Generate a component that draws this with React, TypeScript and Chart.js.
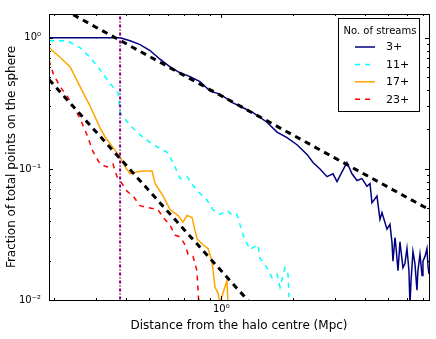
import React, { useEffect, useRef } from 'react';
import { Chart, registerables } from 'chart.js';

Chart.register(...registerables);

// ---- data (distance in Mpc, fraction of points) ----
const s3X = [0.19, 0.377, 0.415, 0.457, 0.503, 0.554, 0.61, 0.672, 0.74, 0.814, 0.897, 0.988, 1.119, 1.233, 1.357, 1.553, 1.711, 1.883, 2.074, 2.284, 2.42, 2.588, 2.769, 2.934, 3.049, 3.199, 3.357, 3.523, 3.697, 3.879, 4.071, 4.19, 4.27, 4.482, 4.613, 4.704, 4.935, 5.08, 5.178, 5.229, 5.332, 5.383, 5.488, 5.594, 5.758, 5.869, 5.984, 6.1, 6.16, 6.22, 6.34, 6.46, 6.589, 6.65, 6.783, 6.92, 6.981, 7.12, 7.256, 7.33, 7.4];
const s3Y = [1, 1, 0.95, 0.887, 0.8, 0.687, 0.6, 0.541, 0.506, 0.464, 0.392, 0.372, 0.319, 0.293, 0.269, 0.227, 0.191, 0.173, 0.153, 0.129, 0.112, 0.1, 0.0873, 0.0918, 0.0801, 0.095, 0.112, 0.0918, 0.0815, 0.0843, 0.0736, 0.0774, 0.0551, 0.0621, 0.0412, 0.0464, 0.0347, 0.0378, 0.0278, 0.0198, 0.03, 0.0255, 0.0167, 0.0278, 0.0176, 0.019, 0.0247, 0.0167, 0.0092, 0.0137, 0.0234, 0.019, 0.0119, 0.0167, 0.0223, 0.0154, 0.0198, 0.0215, 0.0247, 0.018, 0.0158];

const s11X = [0.19, 0.226, 0.256, 0.282, 0.311, 0.342, 0.37, 0.377, 0.415, 0.457, 0.518, 0.593, 0.628, 0.672, 0.719, 0.76, 0.814, 0.871, 0.923, 0.988, 1.056, 1.119, 1.163, 1.233, 1.318, 1.424, 1.452, 1.553, 1.63, 1.711, 1.761, 1.847, 1.901, 1.92];
const s11Y = [0.95, 0.95, 0.843, 0.711, 0.57, 0.449, 0.378, 0.269, 0.215, 0.182, 0.153, 0.134, 0.112, 0.0843, 0.0873, 0.075, 0.0653, 0.0579, 0.0489, 0.045, 0.048, 0.0441, 0.0449, 0.0313, 0.0243, 0.0264, 0.0208, 0.0176, 0.0148, 0.0158, 0.0125, 0.0176, 0.0158, 0.0105];

const s17X = [0.19, 0.211, 0.233, 0.256, 0.282, 0.311, 0.326, 0.352, 0.377, 0.396, 0.415, 0.444, 0.47, 0.513, 0.528, 0.571, 0.61, 0.659, 0.691, 0.719, 0.754, 0.791, 0.838, 0.88, 0.914, 0.941, 0.969, 0.988, 1.016, 1.056, 1.067];
const s17Y = [0.843, 0.711, 0.6, 0.426, 0.303, 0.205, 0.176, 0.146, 0.123, 0.1035, 0.0918, 0.095, 0.0966, 0.0966, 0.0774, 0.0621, 0.049, 0.0441, 0.0392, 0.0441, 0.0426, 0.0293, 0.0264, 0.0247, 0.0198, 0.0125, 0.0113, 0.0095, 0.0113, 0.0141, 0.009];

const s23X = [0.19, 0.198, 0.211, 0.226, 0.24, 0.256, 0.274, 0.29, 0.311, 0.332, 0.352, 0.366, 0.384, 0.403, 0.427, 0.457, 0.493, 0.543, 0.571, 0.61, 0.64, 0.672, 0.705, 0.726, 0.761, 0.791, 0.799, 0.807];
const s23Y = [0.675, 0.532, 0.426, 0.359, 0.303, 0.243, 0.182, 0.136, 0.109, 0.1035, 0.109, 0.0873, 0.0774, 0.0676, 0.0621, 0.0524, 0.0506, 0.049, 0.0426, 0.0372, 0.0313, 0.0303, 0.0264, 0.0223, 0.0215, 0.0167, 0.0119, 0.009];

const fit1X = [0.24, 7.4];
const fit1Y = [1.5, 0.049];
const fit2X = [0.19, 1.3];
const fit2Y = [0.48, 0.0098];

const markerX = [0.377, 0.377];
const markerY = [0.005, 2];

const X_MIN = 0.19, X_MAX = 7.4, Y_MIN = 0.01, Y_MAX = 1.52;
const X_TICKS = [0.2, 0.3, 0.4, 0.5, 0.6, 0.7, 0.8, 0.9, 1, 2, 3, 4, 5, 6, 7];
const Y_TICKS = [0.01, 0.02, 0.03, 0.04, 0.05, 0.06, 0.07, 0.08, 0.09, 0.1, 0.2, 0.3, 0.4, 0.5, 0.6, 0.7, 0.8, 0.9, 1];
const X_MAJOR = [1];
const Y_MAJOR = [0.01, 0.1, 1];
const X_LABELS = ['10⁰'];
const Y_LABELS = ['10⁻²', '10⁻¹', '10⁰'];

const LEGEND_TITLE = 'No. of streams';

const FONT = '"DejaVu Sans", sans-serif';

const pts = (xs: number[], ys: number[]) => xs.map((x, i) => ({ x, y: ys[i] }));
const near = (a: number, b: number) => Math.abs(a - b) / b < 1e-6;

const labelFor = (v: number, majors: number[], labels: string[]) => {
  const i = majors.findIndex((m) => near(v, m));
  return i >= 0 ? labels[i] : '';
};

const frameAndTicks = {
  id: 'frameAndTicks',
  afterDatasetsDraw(chart: any) {
    const { ctx, chartArea, scales } = chart;
    const { left, right, top, bottom } = chartArea;
    ctx.save();
    ctx.strokeStyle = '#000';
    ctx.lineWidth = 1;
    ctx.beginPath();
    X_TICKS.forEach((v) => {
      const px = Math.round(scales.x.getPixelForValue(v)) + 0.5;
      const len = X_MAJOR.some((m) => near(v, m)) ? 4 : 2;
      ctx.moveTo(px, bottom);
      ctx.lineTo(px, bottom - len);
      ctx.moveTo(px, top);
      ctx.lineTo(px, top + len);
    });
    Y_TICKS.forEach((v) => {
      const py = Math.round(scales.y.getPixelForValue(v)) + 0.5;
      const len = Y_MAJOR.some((m) => near(v, m)) ? 4 : 2;
      ctx.moveTo(left, py);
      ctx.lineTo(left + len, py);
      ctx.moveTo(right, py);
      ctx.lineTo(right - len, py);
    });
    ctx.stroke();
    ctx.strokeRect(Math.round(left) + 0.5, Math.round(top) + 0.5, Math.round(right - left), Math.round(bottom - top));
    ctx.restore();
  },
};

const boxLegend = {
  id: 'boxLegend',
  afterDraw(chart: any) {
    const { ctx, chartArea } = chart;
    const items = chart.data.datasets.filter((d: any) => d.inLegend);
    const bw = 81, bh = 93;
    const bx = Math.round(chartArea.right - 91) + 0.5;
    const by = Math.round(chartArea.top + 4) + 0.5;
    ctx.save();
    ctx.fillStyle = '#fff';
    ctx.fillRect(bx, by, bw, bh);
    ctx.strokeStyle = '#000';
    ctx.lineWidth = 1;
    ctx.strokeRect(bx, by, bw, bh);
    ctx.fillStyle = '#000';
    ctx.textBaseline = 'middle';
    ctx.textAlign = 'center';
    ctx.font = `10px ${FONT}`;
    ctx.fillText(LEGEND_TITLE, bx + bw / 2 + 1, by + 12.5);
    ctx.textAlign = 'left';
    ctx.font = `11px ${FONT}`;
    items.forEach((d: any, i: number) => {
      const cy = by + 28.5 + i * 17.4;
      ctx.save();
      ctx.strokeStyle = d.borderColor;
      ctx.lineWidth = d.borderWidth;
      ctx.setLineDash(d.borderDash || []);
      ctx.beginPath();
      ctx.moveTo(bx + 16.5, cy);
      ctx.lineTo(bx + 36.5, cy);
      ctx.stroke();
      ctx.restore();
      ctx.fillText(d.label, bx + 47.5, cy + 0.5);
    });
    ctx.restore();
  },
};

export default function App() {
  const ref = useRef<HTMLCanvasElement | null>(null);

  useEffect(() => {
    document.body.style.margin = '0';
    const canvas = ref.current;
    if (!canvas) return;
    const line = (label: string, xs: number[], ys: number[], color: string, width: number, dash: number[], order: number, inLegend: boolean) => ({
      label,
      data: pts(xs, ys),
      borderColor: color,
      backgroundColor: color,
      borderWidth: width,
      borderDash: dash,
      pointRadius: 0,
      tension: 0,
      fill: false,
      clip: 0,
      order,
      inLegend,
    });
    const chart = new Chart(canvas, {
      type: 'line',
      data: {
        datasets: [
          line('3+', s3X, s3Y, '#000080', 1.5, [], 6, true),
          line('11+', s11X, s11Y, '#00ffff', 1.5, [5, 5], 5, true),
          line('17+', s17X, s17Y, '#ffa500', 1.5, [], 4, true),
          line('23+', s23X, s23Y, '#ff0000', 1.5, [5, 5], 3, true),
          line('fit r^-1', fit1X, fit1Y, '#000000', 3, [6, 5], 2, false),
          line('fit r^-2', fit2X, fit2Y, '#000000', 3, [6, 5], 2, false),
          line('radius', markerX, markerY, '#800080', 2, [3, 2, 1, 2], 1, false),
        ] as any,
      },
      options: {
        animation: false,
        responsive: false,
        maintainAspectRatio: false,
        events: [],
        layout: { padding: { top: 5, right: 7, left: 0, bottom: 0 } },
        plugins: { legend: { display: false }, tooltip: { enabled: false } },
        scales: {
          x: {
            type: 'logarithmic',
            min: X_MIN,
            max: X_MAX,
            afterBuildTicks: (s: any) => {
              s.ticks = X_TICKS.map((v) => ({ value: v, major: false }));
            },
            afterFit: (s: any) => {
              s.height = 39;
            },
            grid: { display: false, drawTicks: false },
            border: { display: false },
            ticks: {
              autoSkip: false,
              maxRotation: 0,
              padding: 3,
              color: '#000',
              font: { family: FONT, size: 10 },
              callback: (v: any) => labelFor(Number(v), X_MAJOR, X_LABELS),
            },
            title: {
              display: true,
              text: 'Distance from the halo centre (Mpc)',
              color: '#000',
              font: { family: FONT, size: 12 },
              padding: { top: 0, bottom: 6 },
            },
          },
          y: {
            type: 'logarithmic',
            min: Y_MIN,
            max: Y_MAX,
            afterBuildTicks: (s: any) => {
              s.ticks = Y_TICKS.map((v) => ({ value: v, major: false }));
            },
            afterFit: (s: any) => {
              s.width = 49;
            },
            grid: { display: false, drawTicks: false },
            border: { display: false },
            ticks: {
              autoSkip: false,
              padding: 8,
              color: '#000',
              font: { family: FONT, size: 10 },
              callback: (v: any) => labelFor(Number(v), Y_MAJOR, Y_LABELS),
            },
            title: {
              display: true,
              text: 'Fraction of total points on the sphere',
              color: '#000',
              font: { family: FONT, size: 12 },
              padding: { top: 5, bottom: 0 },
            },
          },
        },
      },
      plugins: [frameAndTicks, boxLegend],
    } as any);
    return () => chart.destroy();
  }, []);

  return (
    <div style={{ width: 436, height: 339, background: '#fff' }}>
      <canvas ref={ref} width={436} height={339} />
    </div>
  );
}
